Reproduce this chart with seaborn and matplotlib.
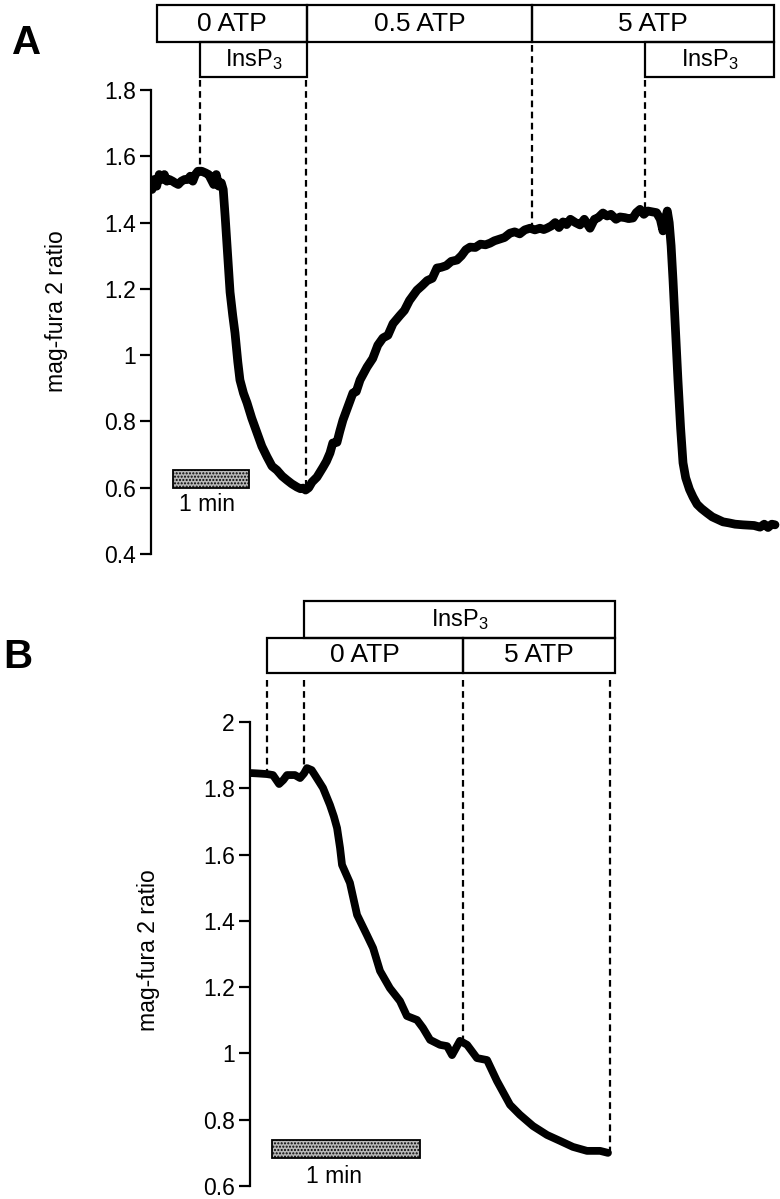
import numpy as np
import pandas as pd
import seaborn as sns
import matplotlib.pyplot as plt
from matplotlib.patches import Rectangle

sns.set_theme(style="ticks")
plt.rcParams["font.family"] = ["Liberation Sans", "DejaVu Sans"]
plt.rcParams["mathtext.fontset"] = "custom"
plt.rcParams["mathtext.rm"] = "Liberation Sans"
plt.rcParams["mathtext.it"] = "Liberation Sans:italic"
for key in ["text.color", "axes.labelcolor", "xtick.color", "ytick.color", "axes.edgecolor"]:
    plt.rcParams[key] = "black"

# ---- panel A trace (time in s, mag-fura 2 ratio) ----
a_time = [0.8, 2.5, 4.5, 6.5, 8.5, 10.5, 12.5, 14.5, 17, 19, 21.5, 24, 26.5, 29, 31, 33, 35, 37,
          40, 43, 45.5, 47.5, 49.5, 51.5, 53.5, 55.5, 57,
          58.5, 60, 62.4, 64.5, 66.3, 68.5, 70.2, 73, 75.8, 79.5, 83.7, 87.5, 91.6, 95.5, 99.4,
          103.5, 107.3, 111, 115.2, 118, 120, 122, 124.5, 127.1, 131, 135.8, 138.5, 141.3, 143.5,
          146.8, 149, 151.5, 155, 159.4, 162, 165, 170.5, 175, 179, 183.1, 187, 191, 196.5, 200,
          204, 209.9, 214, 218, 222, 225.7, 229, 233, 237, 241.5, 245, 248.5, 251.8, 256, 260,
          264, 267.6, 271, 275, 279, 283.3, 287, 291, 295, 299.1, 303, 307, 310, 312.5, 316, 319,
          322, 325.2, 328, 331, 335, 338.6, 342, 346.5, 350, 353, 356.7, 360, 363, 367, 370.2,
          374, 377, 380.4, 383, 386, 389, 392, 396.2, 399, 402, 404.1, 406, 407.5, 409, 410.5,
          412, 414, 415.9, 418, 419.9, 422, 425, 427.8, 431, 434.5, 438.8, 443, 447, 451.5, 456,
          461, 467.2, 472, 476, 480.7, 484, 487, 490, 492.5]
a_ratio = [1.50, 1.53, 1.51, 1.545, 1.53, 1.545, 1.525, 1.53, 1.525, 1.52, 1.515, 1.525, 1.53,
           1.53, 1.54, 1.525, 1.545, 1.555, 1.555, 1.55, 1.545, 1.53, 1.515, 1.545, 1.51, 1.52,
           1.50,
           1.42, 1.33, 1.19, 1.12, 1.067, 0.98, 0.925, 0.885, 0.856, 0.81, 0.765, 0.725, 0.693,
           0.665, 0.653, 0.635, 0.623, 0.612, 0.602, 0.597, 0.599, 0.593, 0.60, 0.617, 0.632,
           0.662, 0.68, 0.705, 0.735, 0.737, 0.770, 0.804, 0.84, 0.886, 0.89, 0.925, 0.964, 0.99,
           1.03, 1.052, 1.06, 1.095, 1.12, 1.135, 1.165, 1.196, 1.21, 1.225, 1.232, 1.263, 1.265,
           1.27, 1.283, 1.287, 1.30, 1.318, 1.326, 1.325, 1.335, 1.333, 1.338, 1.345, 1.35,
           1.355, 1.368, 1.372, 1.366, 1.378, 1.383, 1.378, 1.383, 1.379, 1.383, 1.39, 1.40,
           1.385, 1.402, 1.394, 1.41, 1.40, 1.393, 1.41, 1.383, 1.41, 1.415, 1.429, 1.42, 1.425,
           1.41, 1.417, 1.415, 1.412, 1.414, 1.43, 1.44, 1.425, 1.435, 1.432, 1.43, 1.41, 1.375,
           1.41, 1.435, 1.40, 1.33, 1.227, 1.07, 0.925, 0.78, 0.675, 0.63, 0.595, 0.572, 0.55,
           0.537, 0.524, 0.512, 0.505, 0.497, 0.494, 0.49, 0.488, 0.487, 0.486, 0.481, 0.49, 0.48,
           0.49, 0.488]

# solution changes in A (s)
a_atp_edges = [4.7, 123.1, 300.7, 491.7]
a_atp_labels = ["0 ATP", "0.5 ATP", "5 ATP"]
a_insp3_spans = [(38.7, 123.1), (389.9, 491.7)]
a_event_times = [38.7, 122.0, 300.7, 389.9]

# ---- panel B trace ----
b_time = [0.5, 3, 6.9, 9.3, 11.8, 13.5, 15.0, 18.2, 20.3, 21.9, 23.1, 25, 26.3, 28, 29.6, 32.4,
          34, 35.3, 36.5, 37.3, 40.5, 43.4, 47.4, 49.9, 52.7, 56.7, 60.8, 63.6, 67.7, 70.1, 73.0,
          77.0, 79.9, 81.9, 85.1, 88.0, 92.0, 96.1, 100.1, 105.4, 109.4, 114.7, 120.4, 125.7,
          130.9, 136.6, 141.9, 145.1]
b_ratio = [1.846, 1.845, 1.843, 1.840, 1.813, 1.825, 1.840, 1.840, 1.831, 1.845, 1.861, 1.855,
           1.840, 1.82, 1.801, 1.750, 1.715, 1.680, 1.62, 1.569, 1.515, 1.418, 1.357, 1.318,
           1.249, 1.197, 1.158, 1.113, 1.101, 1.077, 1.041, 1.026, 1.022, 0.995, 1.038, 1.026,
           0.986, 0.980, 0.917, 0.845, 0.815, 0.781, 0.754, 0.736, 0.718, 0.706, 0.706, 0.700]

b_atp_edges = [6.9, 86.3, 148.0]
b_atp_labels = ["0 ATP", "5 ATP"]
b_insp3_span = (21.9, 148.0)
b_event_times = [6.9, 21.9, 86.3, 145.9]

TICK_FS = 16.5
BOX_FS = 19
INSP3_FS = 17
INSP3 = "InsP$_3$"


def style_axis(ax, lo, hi, xmax, ytop):
    ax.set_xlim(0, xmax)
    ax.set_ylim(lo, ytop)
    ticks = np.round(np.arange(lo, hi + 0.01, 0.2), 1)
    ax.set_yticks(ticks)
    ax.set_yticklabels([f"{t:g}" for t in ticks], fontsize=TICK_FS)
    ax.spines["left"].set_bounds(lo, hi)
    ax.spines["left"].set_linewidth(1.6)
    for s in ["top", "right", "bottom"]:
        ax.spines[s].set_visible(False)
    ax.set_xticks([])
    ax.tick_params(axis="y", length=8, width=1.6, pad=3, colors="black")
    ax.set_xlabel("")
    ax.set_facecolor("white")


def box(ax, x0, x1, y0, y1, label, fs):
    ax.add_patch(Rectangle((x0, y0), x1 - x0, y1 - y0, fill=False, ec="black", lw=1.6))
    ax.text((x0 + x1) / 2, (y0 + y1) / 2, label, ha="center", va="center", fontsize=fs)


def scale_bar(ax, t0, y0, h, text_x, text_y):
    ax.add_patch(Rectangle((t0, y0), 60, h, facecolor="#b8b8b8", edgecolor="black",
                           lw=1.3, hatch="....."))
    ax.text(text_x, text_y, "1 min", ha="left", va="center", fontsize=TICK_FS)


fig = plt.figure(figsize=(7.8, 11.99), dpi=100)
fig.patch.set_facecolor("white")

# ---------------- panel A ----------------
axA = fig.add_axes([151 / 780, 1 - 554 / 1199, 629 / 780, 554 / 1199])
dfA = pd.DataFrame({"time": a_time, "ratio": a_ratio})
sns.lineplot(data=dfA, x="time", y="ratio", ax=axA, color="black", lw=6.3,
             estimator=None, sort=False)
style_axis(axA, 0.4, 1.8, 629 / 1.267, 0.4 + 554 / 331.4)
axA.set_ylabel("mag-fura 2 ratio", fontsize=16.5)
axA.yaxis.set_label_coords(-0.132, 0.4386)

for i, lab in enumerate(a_atp_labels):
    box(axA, a_atp_edges[i], a_atp_edges[i + 1], 1.945, 2.056, lab, BOX_FS)
for x0, x1 in a_insp3_spans:
    box(axA, x0, x1, 1.839, 1.945, INSP3, INSP3_FS)

a_dash_tops = [1.83, 1.83, 1.935, 1.83]
for t, top in zip(a_event_times, a_dash_tops):
    axA.plot([t, t], [top, np.interp(t, a_time, a_ratio)], color="black",
             lw=1.6, ls=(0, (3, 2)), zorder=1)

scale_bar(axA, 17.4, 0.599, 0.054, 22.0, 0.548)

# ---------------- panel B ----------------
axB = fig.add_axes([250 / 780, 1 - 1186 / 1199, 530 / 780, 591 / 1199])
dfB = pd.DataFrame({"time": b_time, "ratio": b_ratio})
sns.lineplot(data=dfB, x="time", y="ratio", ax=axB, color="black", lw=5.6,
             estimator=None, sort=False)
style_axis(axB, 0.6, 2.0, 530 / 2.467, 0.6 + 591 / 331.4)
axB.set_ylabel("mag-fura 2 ratio", fontsize=16.5)
axB.yaxis.set_label_coords(-0.1698, 0.3997)

box(axB, b_insp3_span[0], b_insp3_span[1], 2.254, 2.365, INSP3, INSP3_FS)
for i, lab in enumerate(b_atp_labels):
    box(axB, b_atp_edges[i], b_atp_edges[i + 1], 2.148, 2.254, lab, BOX_FS)

for t in b_event_times:
    axB.plot([t, t], [2.127, np.interp(t, b_time, b_ratio)], color="black",
             lw=1.6, ls=(0, (3, 2)), zorder=1)

scale_bar(axB, 8.9, 0.6845, 0.0543, 22.5, 0.630)

fig.text(27 / 780, 1 - 43 / 1199, "A", fontsize=29, fontweight="bold", ha="center", va="center")
fig.text(18 / 780, 1 - 657 / 1199, "B", fontsize=29, fontweight="bold", ha="center", va="center")

fig.savefig("out.png", dpi=100, facecolor="white")
